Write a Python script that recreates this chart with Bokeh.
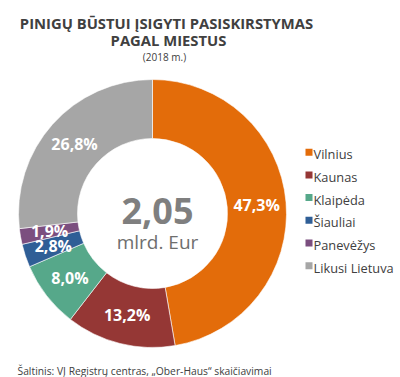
import numpy as np
from bokeh.plotting import figure
from bokeh.models import Range1d
from bokeh.core.properties import value
from bokeh.embed import file_html
from bokeh.resources import INLINE

# ---- data ----
categories = ["Vilnius", "Kaunas", "Klaipėda", "Šiauliai", "Panevėžys", "Likusi Lietuva"]
shares = [47.3, 13.2, 8.0, 2.8, 1.9, 26.8]
share_labels = ["47,3%", "13,2%", "8,0%", "2,8%", "1,9%", "26,8%"]
colors = ["#E36C0A", "#953735", "#56A88A", "#2F5E96", "#7B4E7F", "#A6A6A6"]
total_value = "2,05"
total_unit = "mlrd. Eur"
title_lines = ["PINIGŲ BŪSTUI ĮSIGYTI PASISKIRSTYMAS", "PAGAL MIESTUS", "(2018 m.)"]
source_text = "Šaltinis: VĮ Registrų centras, „Ober-Haus“ skaičiavimai"

W, H = 400, 377
FONT = "Open Sans"

p = figure(width=W, height=H, output_backend="svg", toolbar_location=None,
           x_range=Range1d(0, W), y_range=Range1d(0, H),
           min_border=0, outline_line_color=None)
p.axis.visible = False
p.grid.visible = False
p.background_fill_color = "white"

def Y(py):
    return H - py

cx, cy = 152, Y(213)
r_in, r_out = 75, 134

vals = np.array(shares)
frac = vals / vals.sum()
cum = np.concatenate([[0], np.cumsum(frac)])
start = np.pi / 2 - cum[:-1] * 2 * np.pi
end = np.pi / 2 - cum[1:] * 2 * np.pi
mid = (start + end) / 2

p.annular_wedge(x=cx, y=cy, inner_radius=r_in, outer_radius=r_out,
                start_angle=start, end_angle=end, direction="clock",
                fill_color=colors, line_color="white", line_width=0.6)

r_lab = (r_in + r_out) / 2
lx = cx + r_lab * np.cos(mid)
ly = cy + r_lab * np.sin(mid)
p.text(x=lx, y=ly, text=share_labels, text_color="white", text_font=value(FONT),
       text_font_style="bold", text_font_size="16px", text_align="center",
       text_baseline="middle")

# center text
p.text(x=[cx + 5], y=[Y(210)], text=[total_value], text_color="#7F7F7F",
       text_font=value(FONT), text_font_style="bold", text_font_size="36px",
       text_align="center", text_baseline="alphabetic")
p.text(x=[cx + 5], y=[Y(241)], text=[total_unit], text_color="#6E6E6E",
       text_font=value(FONT), text_font_size="19px",
       text_align="center", text_baseline="alphabetic")

# title
p.text(x=[166], y=[Y(22)], text=[title_lines[0]], text_color="#404040",
       text_font=value(FONT), text_font_style="bold", text_font_size="14.8px",
       text_align="center", text_baseline="alphabetic")
p.text(x=[168], y=[Y(39)], text=[title_lines[1]], text_color="#404040",
       text_font=value(FONT), text_font_style="bold", text_font_size="14.8px",
       text_align="center", text_baseline="alphabetic")
p.text(x=[164], y=[Y(56)], text=[title_lines[2]], text_color="#404040",
       text_font=value(FONT), text_font_size="10px",
       text_align="center", text_baseline="alphabetic")

# legend
leg_y0, leg_dy = 151.7, 22.7
ly_leg = [Y(leg_y0 + i * leg_dy) for i in range(len(categories))]
p.scatter(x=[308.5] * len(categories), y=ly_leg, marker="square", size=7,
          fill_color=colors, line_color=None)
p.text(x=[313] * len(categories), y=[v - 2 for v in ly_leg], text=categories,
       text_color="#404040", text_font=value(FONT), text_font_size="12.8px",
       text_align="left", text_baseline="alphabetic")

# source
p.text(x=[17], y=[Y(370)], text=[source_text], text_color="#404040",
       text_font=value(FONT), text_font_size="10.3px",
       text_align="left", text_baseline="alphabetic")

open("out.html", "w").write(file_html(p, INLINE))
